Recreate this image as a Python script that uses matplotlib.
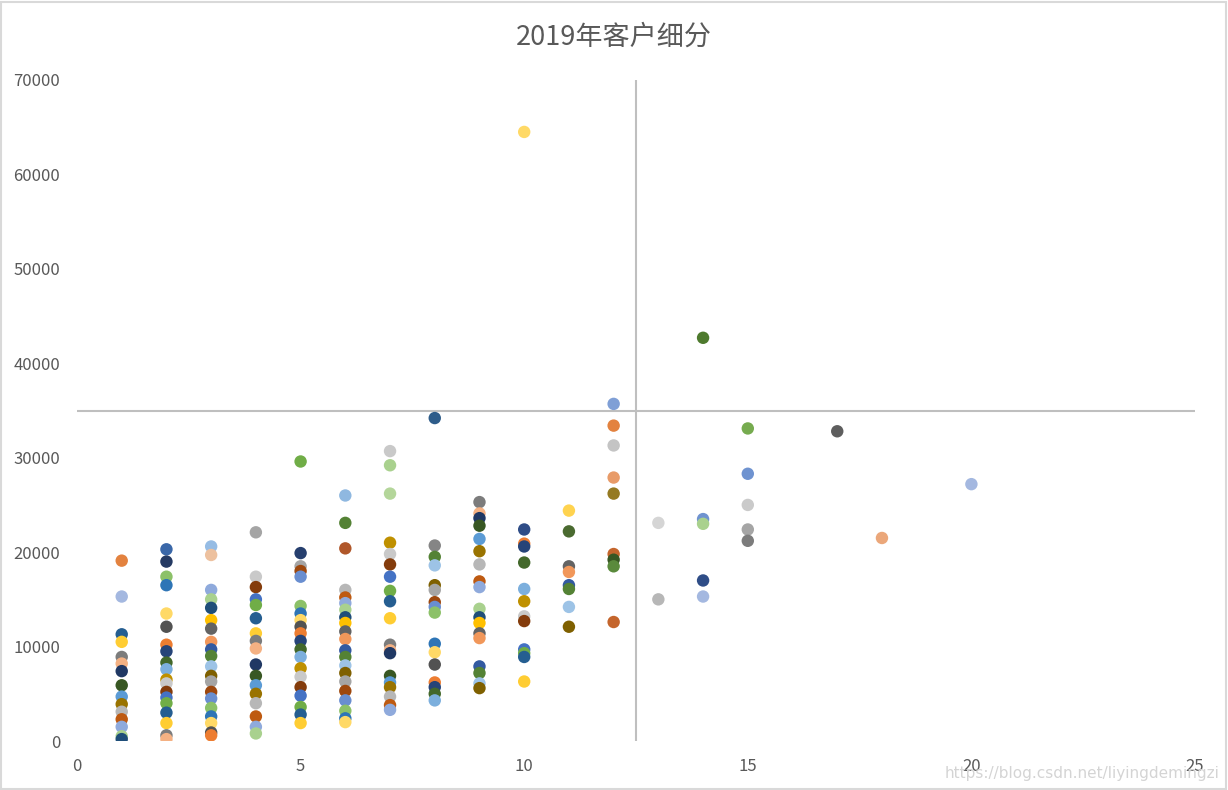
import matplotlib.pyplot as plt
from matplotlib.patches import Rectangle

plt.rcParams['font.family'] = ['Noto Sans CJK SC', 'DejaVu Sans']

title = '2019年客户细分'

# y values (amount) per x value (purchase count)
y_at_1 = [19100, 15300, 11300, 10500, 8900, 8200, 7400, 5900, 4700, 3900, 3100, 2300, 1500, 500, 200]
y_at_2 = [20300, 19000, 17400, 16500, 13500, 12100, 10200, 9500, 8300, 7600, 6500, 6100, 5200,
          4600, 4000, 3000, 1900, 600, 200]
y_at_3 = [20600, 19700, 16000, 15000, 14100, 12800, 11900, 10500, 9700, 9000, 7900, 6900, 6300,
          5200, 4500, 3500, 2600, 1900, 900, 600]
y_at_4 = [22100, 17400, 16300, 15000, 14400, 13000, 11400, 10600, 9800, 8100, 6900, 5900, 5000,
          4000, 2600, 1500, 800]
y_at_5 = [29600, 19900, 18500, 18000, 17400, 14300, 13500, 12800, 12100, 11400, 10600, 9700,
          8900, 7700, 6800, 5700, 4800, 3600, 2800, 1900]
y_at_6 = [26000, 23100, 20400, 16000, 15200, 14600, 13900, 13100, 12500, 11600, 10800, 9600,
          8900, 8000, 7200, 6300, 5300, 4300, 3200, 2400, 2000]
y_at_7 = [30700, 29200, 26200, 21000, 19800, 18700, 17400, 15900, 14800, 13000, 10200, 9600,
          9300, 6900, 6200, 5700, 4700, 3800, 3300]
y_at_8 = [34200, 20700, 19500, 18600, 16500, 16000, 14700, 14200, 13600, 10300, 9400, 8100,
          6200, 5700, 5000, 4300]
y_at_9 = [25300, 24100, 23600, 22800, 21400, 20100, 18700, 16900, 16300, 14000, 13100, 12500,
          11400, 10900, 7900, 7200, 6100, 5600]
y_at_10 = [64500, 22400, 20900, 20600, 18900, 16100, 14800, 13200, 12700, 9700, 9300, 8900, 6300]
y_at_11 = [24400, 22200, 18500, 17900, 16500, 16100, 14200, 12100]
y_at_12 = [35700, 33400, 31300, 27900, 26200, 19800, 19200, 18500, 12600]
y_at_13 = [23100, 15000]
y_at_14 = [42700, 23500, 23000, 17000, 15300]
y_at_15 = [33100, 28300, 25000, 22400, 21200]
y_at_17 = [32800]
y_at_18 = [21500]
y_at_20 = [27200]

columns = [(1, y_at_1), (2, y_at_2), (3, y_at_3), (4, y_at_4), (5, y_at_5), (6, y_at_6),
           (7, y_at_7), (8, y_at_8), (9, y_at_9), (10, y_at_10), (11, y_at_11), (12, y_at_12),
           (13, y_at_13), (14, y_at_14), (15, y_at_15), (17, y_at_17), (18, y_at_18),
           (20, y_at_20)]

# Excel office palette with shades
palette = ['#4472C4', '#ED7D31', '#A5A5A5', '#FFC000', '#5B9BD5', '#70AD47',
           '#264478', '#9E480E', '#636363', '#997300', '#255E91', '#43682B',
           '#698ED0', '#F1975A', '#B7B7B7', '#FFCD33', '#7CAFDD', '#8CC168',
           '#335AA1', '#BE5A11', '#7C7C7C', '#BF9000', '#2E75B6', '#548235',
           '#8FAADC', '#F4B183', '#C9C9C9', '#FFD966', '#9DC3E6', '#A9D18E',
           '#203864', '#843C0C', '#525252', '#7F6000', '#1F4E79', '#385723']

special = {(10, 64500): '#FFD966', (14, 42700): '#4E7A2E', (8, 34200): '#2E5C8A',
           (12, 35700): '#7F9FD6', (5, 29600): '#70AD47', (7, 30700): '#C9C9C9',
           (7, 29200): '#A9D18E', (7, 26200): '#B4D69A', (6, 26000): '#8FB8E0',
           (6, 23100): '#548235', (6, 20400): '#B0572A', (4, 22100): '#A5A5A5',
           (1, 19100): '#E3823F', (1, 15300): '#A4B8E0', (12, 33400): '#E3823F',
           (12, 31300): '#C4C4C4', (12, 27900): '#E89B68', (12, 26200): '#957A22',
           (12, 12600): '#C4652C', (13, 23100): '#D5D5D5', (13, 15000): '#B7B7B7',
           (14, 23500): '#6F93D0', (14, 23000): '#A9D18E', (14, 17000): '#2F4D87',
           (14, 15300): '#A4B8E0', (15, 33100): '#76AB4F', (15, 28300): '#6F93D0',
           (15, 25000): '#CACACA', (15, 22400): '#A5A5A5', (15, 21200): '#7C7C7C',
           (17, 32800): '#5E5E5E', (18, 21500): '#EBA77A', (20, 27200): '#A4B8E0',
           (11, 24400): '#FFD34F', (11, 22200): '#4A6A30', (10, 22400): '#2F4D87',
           (12, 19800): '#C4652C', (12, 18500): '#5A8A3C', (2, 20300): '#3A67A8',
           (2, 19000): '#253A63', (3, 20600): '#96BCE4', (3, 19700): '#EDC19F',
           (5, 19900): '#263F6E', (8, 20700): '#858585'}

xs, ys, cs = [], [], []
for i, (xv, col) in enumerate(columns):
    for j, yv in enumerate(col):
        xs.append(xv)
        ys.append(yv)
        cs.append(special.get((xv, yv), palette[(i * 7 + j * 5) % len(palette)]))

fig = plt.figure(figsize=(12.28, 7.90), dpi=100)
ax = fig.add_axes([77 / 1228, 49 / 790, 1118 / 1228, 661 / 790])

ax.scatter(xs, ys, s=80, c=cs, linewidths=0, zorder=3)

# axes crossing lines (Excel style)
ax.axvline(12.5, color='#BFBFBF', lw=1.5, zorder=2)
ax.axhline(35000, color='#BFBFBF', lw=1.5, zorder=2)

ax.set_xlim(0, 25)
ax.set_ylim(0, 70000)
ax.set_xticks(range(0, 26, 5))
ax.set_yticks(range(0, 70001, 10000))
for s in ax.spines.values():
    s.set_visible(False)
ax.tick_params(length=0, labelsize=12, colors='#595959', pad=12)
ax.tick_params(axis='x', pad=12)

fig.text(0.5, 0.953, title, ha='center', va='center', fontsize=19.5, color='#595959')

fig.patches.append(Rectangle((0.001, 0.001), 0.997, 0.997, transform=fig.transFigure,
                             fill=False, edgecolor='#D9D9D9', lw=1.5))
fig.text(0.993, 0.021, 'https://blog.csdn.net/liyingdemingzi', ha='right', va='center',
         fontsize=11, color='#D4D4D4', family='DejaVu Sans')

fig.savefig('out.png', dpi=100, facecolor='white')
